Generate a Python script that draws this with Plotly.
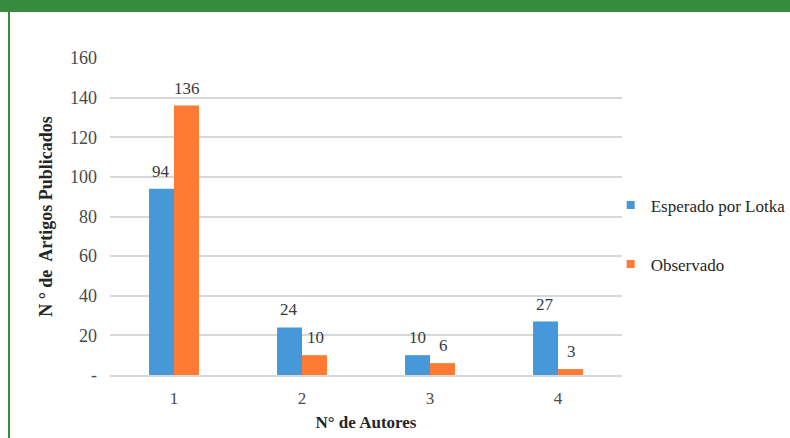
import plotly.graph_objects as go

# Number of authors per article and counts of published articles
autores = ["1", "2", "3", "4"]
esperado_lotka = [94, 24, 10, 27]
observado = [136, 10, 6, 3]

y_ticks = [0, 20, 40, 60, 80, 100, 120, 140, 160]
y_tick_text = ["-", "20", "40", "60", "80", "100", "120", "140", "160"]

BLUE = "#4698D8"
ORANGE = "#FF7A32"
SERIF = "Liberation Serif"
LABEL_COLOR = "#3A3A3A"

fig = go.Figure()

fig.add_trace(go.Bar(
    x=autores, y=esperado_lotka, name="Esperado por Lotka",
    marker=dict(color=BLUE, line=dict(width=0)),
    showlegend=False,
))
fig.add_trace(go.Bar(
    x=autores, y=observado, name="Observado",
    marker=dict(color=ORANGE, line=dict(width=0)),
    showlegend=False,
))

# Small square legend swatches
for name, color, grp in [("Esperado por Lotka", BLUE, "a"), ("Observado", ORANGE, "b")]:
    fig.add_trace(go.Scatter(
        x=[None], y=[None], mode="markers", name=name, legendgroup=grp,
        marker=dict(symbol="square", size=8, color=color),
    ))

# Value labels above each bar (half a bar width left / right of the category)
annotations = []
for values, shift in [(esperado_lotka, -13), (observado, 13)]:
    for idx, v in enumerate(values):
        annotations.append(dict(
            x=idx, y=v, xref="x", yref="y", text=str(v), showarrow=False,
            xanchor="center", yanchor="bottom", xshift=shift, yshift=6,
            font=dict(family=SERIF, size=17, color=LABEL_COLOR),
        ))

fig.update_layout(
    width=790, height=438,
    margin=dict(l=110, r=168, t=58, b=63, autoexpand=False),
    paper_bgcolor="white", plot_bgcolor="white",
    barmode="group", bargap=0.61, bargroupgap=0,
    font=dict(family=SERIF, color=LABEL_COLOR),
    legend=dict(
        xref="container", yref="container",
        x=0.773, y=0.572, xanchor="left", yanchor="top",
        font=dict(family=SERIF, size=17, color="#262626"),
        tracegroupgap=34, itemwidth=30,
        bgcolor="rgba(0,0,0,0)",
    ),
    xaxis=dict(
        type="category", range=[-0.5, 3.5],
        showgrid=False, showline=True, linecolor="#D6D9D9", linewidth=2,
        tickfont=dict(family=SERIF, size=17, color="#4A4A4A"),
        ticks="", ticklabelstandoff=7,
        title=dict(text="<b>N° de Autores</b>", font=dict(family=SERIF, size=17, color="#262626"), standoff=9),
    ),
    yaxis=dict(
        range=[0, 160], tickvals=y_ticks, ticktext=y_tick_text,
        showgrid=True, gridcolor="#D6D9D9", gridwidth=2,
        zeroline=False, showline=False,
        tickfont=dict(family=SERIF, size=18, color="#4A4A4A"),
        ticks="", ticklabelstandoff=12,
        title=dict(text="<b>N ° de  Artigos Publicados</b>", font=dict(family=SERIF, size=18, color="#262626"), standoff=12),
    ),
    annotations=annotations,
    shapes=[
        # green header band and left border
        dict(type="rect", xref="paper", yref="paper", x0=-0.3, x1=1.4, y0=1.145, y1=1.3,
             fillcolor="#378B3E", line=dict(width=0), layer="above"),
        dict(type="line", xref="paper", yref="paper", x0=-0.1973, x1=-0.1973, y0=-0.3, y1=1.3,
             line=dict(color="#378B3E", width=2)),
    ],
)

fig.write_html("out.html")
